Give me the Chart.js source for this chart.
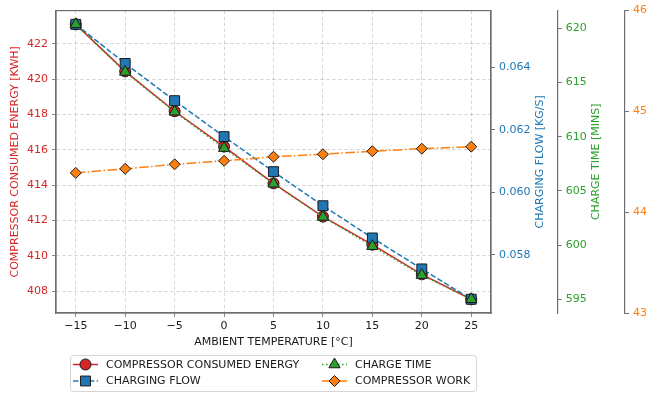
<!DOCTYPE html>
<html>
<head>
<meta charset="utf-8">
<script src="https://cdn.jsdelivr.net/npm/chart.js@4.4.0/dist/chart.umd.min.js"></script>
<style>
  html, body { margin: 0; padding: 0; background: #fff; }
  #wrap { width: 648px; height: 397px; }
</style>
</head>
<body>
<div id="wrap"><canvas id="mainChart" width="648" height="397"></canvas></div>
<script>
const TEMPS = [-15, -10, -5, 0, 5, 10, 15, 20, 25];
const ENERGY = [423.11, 420.45, 418.19, 416.19, 414.11, 412.23, 410.64, 408.96, 407.55];
const FLOW = [0.06537, 0.06412, 0.06293, 0.06178, 0.06066, 0.05957, 0.05854, 0.05755, 0.05658];
const CHARGE_TIME = [620.37, 615.98, 612.3, 608.95, 605.66, 602.6, 599.9, 597.23, 595.0];
const WORK = [44.39, 44.43, 44.475, 44.51, 44.55, 44.575, 44.605, 44.63, 44.65];

const X_TICKS = [-15, -10, -5, 0, 5, 10, 15, 20, 25];
const ENERGY_TICKS = [408, 410, 412, 414, 416, 418, 420, 422];
const FLOW_TICKS = [0.058, 0.060, 0.062, 0.064];
const TIME_TICKS = [595, 600, 605, 610, 615, 620];
const WORK_TICKS = [43, 44, 45, 46];

const RED = '#d62728', BLUE = '#1f77b4', GREEN = '#2ca02c', ORANGE = '#ff7f0e';
const SPINE = '#6e6e6e';
const FONT = { family: 'DejaVu Sans', size: 11 };

// matplotlib style 5% padding around the data
const padRange = (arr) => {
  const lo = Math.min(...arr), hi = Math.max(...arr);
  const m = (hi - lo) * 0.05;
  return { min: lo - m, max: hi + m };
};
const toPoints = (ys) => TEMPS.map((t, i) => ({ x: t, y: ys[i] }));
const fixTicks = (list) => (scale) => { scale.ticks = list.map(v => ({ value: v })); };
const fixWidth = (w) => (scale) => { scale.width = w; };

const rightAxis = (color, ticks, range, width, weight, fmt) => ({
    type: 'linear',
    position: 'right',
    weight: weight,
    min: range.min,
    max: range.max,
    afterBuildTicks: fixTicks(ticks),
    afterFit: fixWidth(width),
    grid: { drawOnChartArea: false, tickLength: 4, tickColor: SPINE, lineWidth: 1 },
    border: { display: true, color: SPINE, width: 1.2 },
    ticks: { color: color, font: FONT, padding: 4, autoSkip: false, callback: fmt }
});

const xRange = { min: -17, max: 27 };
const energyRange = padRange(ENERGY);
const flowRange = padRange(FLOW);
const timeRange = padRange(CHARGE_TIME);
const workRange = { min: 43, max: 46 };

const LEGEND_ITEMS = [
    { text: 'COMPRESSOR CONSUMED ENERGY', color: RED, dash: [], style: 'circle', r: 5.5, col: 0, row: 0 },
    { text: 'CHARGING FLOW', color: BLUE, dash: [5.5, 2.4], style: 'rect', r: 7, col: 0, row: 1 },
    { text: 'CHARGE TIME', color: GREEN, dash: [1.5, 2.5], style: 'triangle', r: 6.5, col: 1, row: 0 },
    { text: 'COMPRESSOR WORK', color: ORANGE, dash: [9.6, 2.4, 1.5, 2.4], style: 'rectRot', r: 5.5, col: 1, row: 1 }
];

const extrasPlugin = {
    id: 'extras',
    beforeDatasetsDraw(chart) {
        const { ctx, chartArea: a } = chart;
        ctx.save();
        ctx.strokeStyle = SPINE;
        ctx.lineWidth = 1.2;
        ctx.strokeRect(a.left, a.top, a.right - a.left, a.bottom - a.top);
        ctx.restore();
    },
    afterDraw(chart) {
        const { ctx, chartArea: a } = chart;
        const midY = (a.top + a.bottom) / 2;
        // right-hand axis titles, reading bottom to top
        const titles = [
            { text: 'CHARGING FLOW [KG/S]', color: BLUE, x: 540 },
            { text: 'CHARGE TIME [MINS]', color: GREEN, x: 596 }
        ];
        ctx.save();
        ctx.font = '11px "DejaVu Sans"';
        ctx.textAlign = 'center';
        ctx.textBaseline = 'middle';
        titles.forEach(t => {
            ctx.save();
            ctx.translate(t.x, midY);
            ctx.rotate(-Math.PI / 2);
            ctx.fillStyle = t.color;
            ctx.fillText(t.text, 0, 0);
            ctx.restore();
        });
        ctx.restore();

        // legend box
        const box = { x: 70.5, y: 355.5, w: 406, h: 36 };
        ctx.save();
        ctx.beginPath();
        ctx.roundRect(box.x, box.y, box.w, box.h, 3);
        ctx.fillStyle = 'rgba(255,255,255,0.85)';
        ctx.fill();
        ctx.strokeStyle = '#d5d5d5';
        ctx.lineWidth = 1;
        ctx.stroke();
        const colX = [73, 322];
        const rowY = [364.5, 381];
        ctx.font = '11px "DejaVu Sans"';
        ctx.textBaseline = 'middle';
        ctx.textAlign = 'left';
        LEGEND_ITEMS.forEach(it => {
            const x0 = colX[it.col], y = rowY[it.row];
            ctx.save();
            ctx.strokeStyle = it.color;
            ctx.lineWidth = 1.5;
            ctx.setLineDash(it.dash);
            ctx.beginPath();
            ctx.moveTo(x0, y);
            ctx.lineTo(x0 + 25, y);
            ctx.stroke();
            ctx.setLineDash([]);
            ctx.fillStyle = it.color;
            ctx.strokeStyle = '#1a1a1a';
            ctx.lineWidth = 1;
            Chart.helpers.drawPoint(ctx, { pointStyle: it.style, radius: it.r, rotation: 0, borderWidth: 1 }, x0 + 12.5, y);
            ctx.restore();
            ctx.fillStyle = '#1a1a1a';
            ctx.fillText(it.text, x0 + 33, y + 0.5);
        });
        ctx.restore();
    }
};

const lineSet = (label, ys, color, axis, dash, style, radius, order) => ({
    label: label,
    data: toPoints(ys),
    yAxisID: axis,
    borderColor: color,
    backgroundColor: color,
    borderWidth: 1.5,
    borderDash: dash,
    pointStyle: style,
    pointRadius: radius,
    pointHoverRadius: radius,
    pointBackgroundColor: color,
    pointBorderColor: '#1a1a1a',
    pointBorderWidth: 1,
    tension: 0,
    fill: false,
    order: order
});

const mainCtx = document.getElementById('mainChart').getContext('2d');
const mainChart = new Chart(mainCtx, {
    type: 'line',
    data: {
        datasets: [
            lineSet('COMPRESSOR CONSUMED ENERGY', ENERGY, RED, 'y', [], 'circle', 5.5, 4),
            lineSet('CHARGING FLOW', FLOW, BLUE, 'y1', [5.5, 2.4], 'rect', 7, 3),
            lineSet('CHARGE TIME', CHARGE_TIME, GREEN, 'y2', [1.5, 2.5], 'triangle', 6.5, 2),
            lineSet('COMPRESSOR WORK', WORK, ORANGE, 'y3', [9.6, 2.4, 1.5, 2.4], 'rectRot', 5.5, 1)
        ]
    },
    options: {
        responsive: false,
        animation: false,
        events: [],
        layout: { padding: { left: 0, right: 0, top: 10, bottom: 48.7 } },
        plugins: { legend: { display: false }, tooltip: { enabled: false } },
        scales: {
            x: {
                type: 'linear',
                position: 'bottom',
                min: xRange.min,
                max: xRange.max,
                afterBuildTicks: fixTicks(X_TICKS),
                afterFit: (s) => { s.height = 35.3; },
                grid: { color: 'rgba(0,0,0,0.2)', tickLength: 4, tickColor: SPINE, lineWidth: 0.8 },
                border: { display: true, color: SPINE, width: 1.2, dash: [3.5, 2.5] },
                ticks: {
                    color: '#1a1a1a', font: FONT, padding: 3, autoSkip: false, maxRotation: 0,
                    callback: (v) => String(v).replace('-', '\u2212')
                },
                title: { display: true, text: 'AMBIENT TEMPERATURE [°C]', color: '#1a1a1a', font: FONT, padding: { top: 0, bottom: 0 } }
            },
            y: {
                type: 'linear',
                position: 'left',
                min: energyRange.min,
                max: energyRange.max,
                afterBuildTicks: fixTicks(ENERGY_TICKS),
                afterFit: fixWidth(56),
                grid: { color: 'rgba(0,0,0,0.2)', tickLength: 4, tickColor: SPINE, lineWidth: 0.8 },
                border: { display: true, color: SPINE, width: 1.2, dash: [3.5, 2.5] },
                ticks: { color: RED, font: FONT, padding: 4, autoSkip: false },
                title: { display: true, text: 'COMPRESSOR CONSUMED ENERGY [KWH]', color: RED, font: FONT, padding: { top: 9, bottom: 0 } }
            },
            y1: rightAxis(BLUE, FLOW_TICKS, flowRange, 66.7, 1, (v) => v.toFixed(3)),
            y2: rightAxis(GREEN, TIME_TICKS, timeRange, 67.3, 2, (v) => String(v)),
            y3: rightAxis(ORANGE, WORK_TICKS, workRange, 23, 3, (v) => String(v))
        }
    },
    plugins: [extrasPlugin]
});
</script>
</body>
</html>
